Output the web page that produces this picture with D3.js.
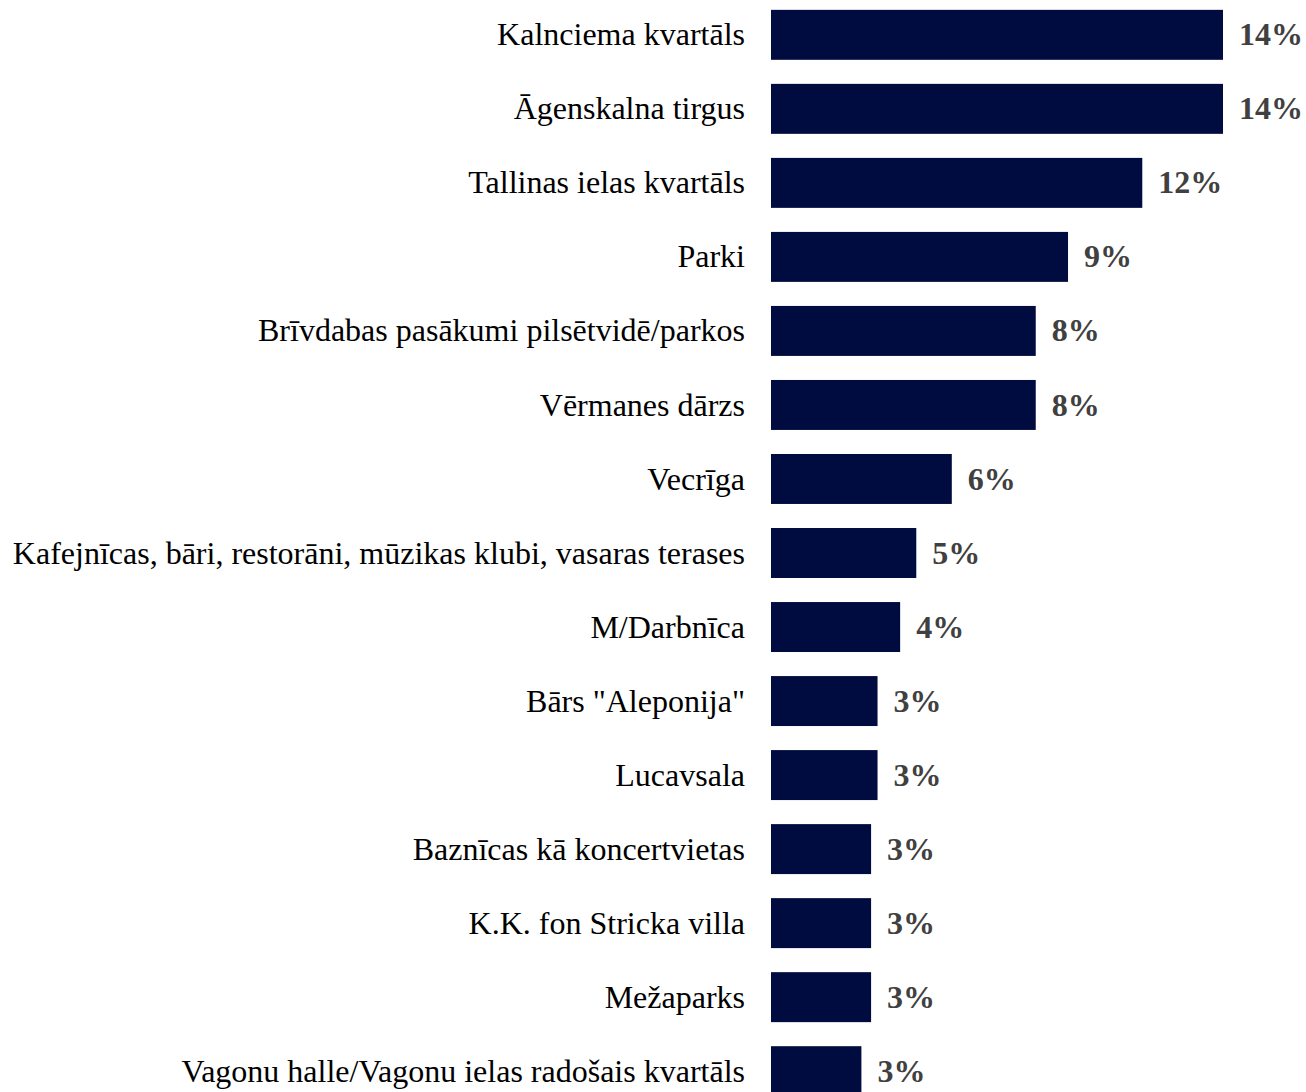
<!DOCTYPE html>
<html>
<head>
<meta charset="utf-8">
<script src="https://cdn.jsdelivr.net/npm/d3@7"></script>
<style>
  html, body { margin: 0; padding: 0; background: #ffffff; overflow: hidden; }
  svg { display: block; }
</style>
</head>
<body>
<svg id="chart" width="1306" height="1092"></svg>
<script>
const categories = [
  "Kalnciema kvartāls",
  "Āgenskalna tirgus",
  "Tallinas ielas kvartāls",
  "Parki",
  "Brīvdabas pasākumi pilsētvidē/parkos",
  "Vērmanes dārzs",
  "Vecrīga",
  "Kafejnīcas, bāri, restorāni, mūzikas klubi, vasaras terases",
  "M/Darbnīca",
  "Bārs \"Aleponija\"",
  "Lucavsala",
  "Baznīcas kā koncertvietas",
  "K.K. fon Stricka villa",
  "Mežaparks",
  "Vagonu halle/Vagonu ielas radošais kvartāls"
];
const values = [0.140, 0.140, 0.115, 0.092, 0.082, 0.082, 0.056, 0.045, 0.040, 0.033, 0.033, 0.031, 0.031, 0.031, 0.028];
const valueLabels = ["14%", "14%", "12%", "9%", "8%", "8%", "6%", "5%", "4%", "3%", "3%", "3%", "3%", "3%", "3%"];

const svg = d3.select("#chart");
const x0 = 771;
const x = d3.scaleLinear().domain([0, 0.14]).range([x0, 1223]);
const y = d3.scaleBand().domain(categories).range([-2, 1108]).paddingInner(0.325).paddingOuter(0.16);

const font = "'Liberation Serif', 'Times New Roman', serif";

svg.selectAll("rect.bar")
  .data(categories)
  .join("rect")
  .attr("class", "bar")
  .attr("x", x(0))
  .attr("y", d => y(d))
  .attr("width", (d, i) => x(values[i]) - x(0))
  .attr("height", y.bandwidth())
  .attr("fill", "#000b3f");

svg.selectAll("text.cat")
  .data(categories)
  .join("text")
  .attr("class", "cat")
  .attr("x", 745)
  .attr("y", d => y(d) + y.bandwidth() / 2)
  .attr("dy", "0.33em")
  .attr("text-anchor", "end")
  .attr("font-family", font)
  .attr("font-size", 32)
  .attr("fill", "#000000")
  .text(d => d);

svg.selectAll("text.val")
  .data(categories)
  .join("text")
  .attr("class", "val")
  .attr("x", (d, i) => x(values[i]) + 16)
  .attr("y", d => y(d) + y.bandwidth() / 2)
  .attr("dy", "0.33em")
  .attr("font-family", font)
  .attr("font-size", 32)
  .attr("font-weight", "bold")
  .attr("fill", "#404040")
  .text((d, i) => valueLabels[i]);
</script>
</body>
</html>
